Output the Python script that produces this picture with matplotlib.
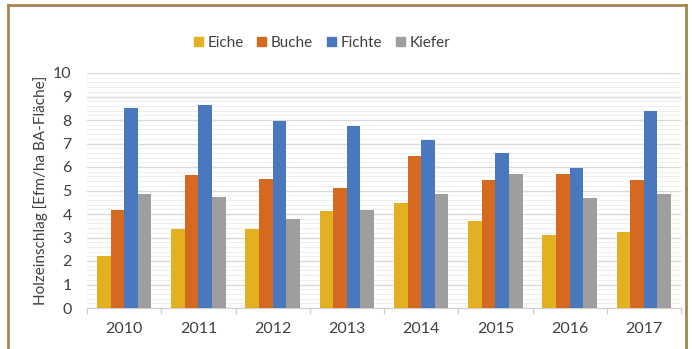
import matplotlib
matplotlib.use("Agg")
import matplotlib.pyplot as plt
import numpy as np
from matplotlib.lines import Line2D
from matplotlib.patches import Patch

years = ["2010", "2011", "2012", "2013", "2014", "2015", "2016", "2017"]
eiche = [2.2, 3.35, 3.38, 4.12, 4.45, 3.7, 3.1, 3.22]
buche = [4.15, 5.65, 5.5, 5.1, 6.48, 5.45, 5.7, 5.45]
fichte = [8.5, 8.62, 7.97, 7.75, 7.17, 6.6, 5.95, 8.38]
kiefer = [4.83, 4.72, 3.77, 4.18, 4.83, 5.72, 4.68, 4.85]
series_names = ["Eiche", "Buche", "Fichte", "Kiefer"]
colors = ["#E3B022", "#D4691F", "#4A78BE", "#9E9E9E"]
ylabel = "Holzeinschlag [Efm/ha BA-Fläche]"

plt.rcParams['font.family'] = ['Lato', 'DejaVu Sans']
W, H = 692, 349
fig = plt.figure(figsize=(W / 100, H / 100), dpi=100)
ax = fig.add_axes([87 / W, 1 - 308 / H, (681 - 87) / W, (308 - 73) / H])

x = np.arange(len(years))
bw = 0.183
data = [eiche, buche, fichte, kiefer]
for i, (vals, c, n) in enumerate(zip(data, colors, series_names)):
    ax.bar(x + (i - 1.5) * bw, vals, width=bw, color=c, label=n, zorder=3)

ax.set_xlim(-0.5, len(years) - 0.5)
ax.set_ylim(0, 10)
ax.set_yticks(range(0, 11))
ax.set_yticks(np.arange(0, 10.01, 0.2), minor=True)
ax.grid(axis='y', which='major', color='#d9d9d9', linewidth=1.0, zorder=0)
ax.grid(axis='y', which='minor', color='#efefef', linewidth=0.8, zorder=0)
ax.tick_params(axis='y', which='both', length=0, labelsize=11.5, labelcolor='#404040', pad=11)
ax.set_xticks(x)
ax.set_xticklabels(years)
ax.tick_params(axis='x', which='major', length=0, labelsize=11.5, labelcolor='#404040', pad=10)
ax.set_xticks(np.arange(-0.5, len(years), 1.0), minor=True)
ax.tick_params(axis='x', which='minor', length=4, color='#d0d0d0', width=1)
for s in ['top', 'right', 'left']:
    ax.spines[s].set_visible(False)
ax.spines['bottom'].set_color('#d0d0d0')
ax.set_ylabel(ylabel, fontsize=11, color='#404040', labelpad=4)

handles = [Patch(color=c, label=n) for c, n in zip(colors, series_names)]
fig.legend(handles=handles, loc='center', bbox_to_anchor=(322 / W, 1 - 43 / H), ncol=4,
           frameon=False, fontsize=11, handlelength=0.6, handleheight=0.6,
           handletextpad=0.3, columnspacing=0.9, labelcolor='#404040')

bc = '#A9844E'
fig.add_artist(Line2D([8 / W, 8 / W], [0, 1 - 5 / H], transform=fig.transFigure, color=bc, lw=2))
fig.add_artist(Line2D([8 / W, 686 / W], [1 - 5 / H, 1 - 5 / H], transform=fig.transFigure, color=bc, lw=2))
fig.add_artist(Line2D([686 / W, 686 / W], [0, 1 - 5 / H], transform=fig.transFigure, color=bc, lw=2))

fig.savefig("out.png", dpi=100, facecolor='white')
